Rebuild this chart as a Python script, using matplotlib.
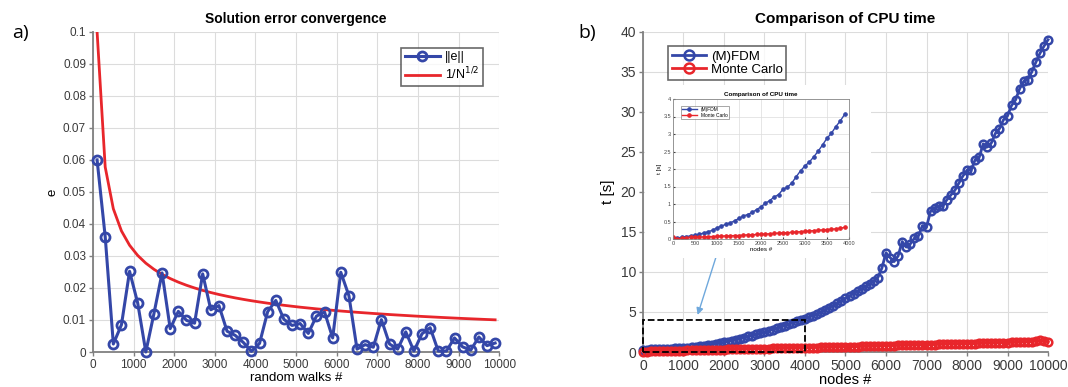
import matplotlib.pyplot as plt
from matplotlib.patches import Rectangle

plt.rcParams['font.family'] = ['Liberation Sans', 'DejaVu Sans']

BLUE = '#3447a8'
RED = '#e8262b'
GRID = '#dcdcdc'

# --- a) solution error convergence ---
walks = list(range(100, 10000, 200))
err = [0.06, 0.036, 0.0025, 0.0085, 0.0252, 0.0153, 0.0, 0.012, 0.0247, 0.0073,
       0.0127, 0.0099, 0.009, 0.0244, 0.0132, 0.0145, 0.0065, 0.0052, 0.003, 0.0002,
       0.0027, 0.0126, 0.0161, 0.0102, 0.0083, 0.0089, 0.0058, 0.0112, 0.0125, 0.0044,
       0.0249, 0.0176, 0.0009, 0.0023, 0.0015, 0.0101, 0.0025, 0.0009, 0.0063, 0.0003,
       0.0057, 0.0076, 0.0003, 0.0003, 0.0044, 0.0016, 0.0006, 0.0047, 0.002, 0.0028]
ref = [0.1, 0.05774, 0.04472, 0.0378, 0.03333, 0.03015, 0.02774, 0.02582, 0.02425, 0.02294,
       0.02182, 0.02085, 0.02, 0.01925, 0.01857, 0.01796, 0.01741, 0.0169, 0.01644, 0.01601,
       0.01562, 0.01525, 0.01491, 0.01459, 0.01429, 0.014, 0.01374, 0.01348, 0.01325, 0.01302,
       0.0128, 0.0126, 0.0124, 0.01222, 0.01204, 0.01187, 0.0117, 0.01155, 0.0114, 0.01125,
       0.01111, 0.01098, 0.01085, 0.01072, 0.0106, 0.01048, 0.01037, 0.01026, 0.01015, 0.01005]

# --- b) CPU time ---
nodes = list(range(0, 10001, 100))
t_fdm = [0.3, 0.3, 0.32, 0.34, 0.36, 0.38, 0.4, 0.42, 0.45, 0.48,
         0.5, 0.55, 0.6, 0.65, 0.7, 0.75, 0.82, 0.9, 1.0, 1.1,
         1.2, 1.3, 1.4, 1.5, 1.65, 1.8, 1.95, 2.05, 2.2, 2.35,
         2.5, 2.65, 2.8, 2.95, 3.1, 3.3, 3.45, 3.65, 3.85, 4.0,
         4.15, 4.35, 4.55, 4.75, 4.95, 5.3, 5.55, 5.8, 6.1, 6.4,
         6.75, 7.0, 7.3, 7.6, 7.9, 8.2, 8.5, 8.9, 9.3, 10.5,
         12.4, 11.8, 11.3, 12.0, 13.8, 13.1, 13.5, 14.2, 14.5, 15.8,
         15.6, 17.6, 18.0, 18.2, 18.2, 19.0, 19.6, 20.2, 21.1, 22.0,
         22.7, 22.7, 24.0, 24.3, 26.0, 25.6, 26.1, 27.3, 27.9, 29.0,
         29.5, 30.8, 31.5, 32.9, 33.8, 34.0, 35.0, 36.2, 37.3, 38.2,
         39.0]
t_mc = [0.05, 0.05, 0.08, 0.1, 0.1, 0.12, 0.13, 0.15, 0.15, 0.17,
        0.18, 0.2, 0.2, 0.22, 0.23, 0.25, 0.25, 0.27, 0.28, 0.3,
        0.3, 0.32, 0.33, 0.33, 0.35, 0.36, 0.37, 0.38, 0.4, 0.4,
        0.42, 0.43, 0.44, 0.45, 0.46, 0.47, 0.48, 0.5, 0.5, 0.52,
        0.53, 0.54, 0.55, 0.56, 0.57, 0.58, 0.6, 0.6, 0.62, 0.63,
        0.64, 0.65, 0.66, 0.68, 0.7, 0.7, 0.72, 0.73, 0.75, 0.78,
        0.8, 0.78, 0.8, 0.82, 0.83, 0.85, 0.86, 0.87, 0.88, 0.9,
        0.9, 0.92, 0.93, 0.95, 0.97, 1.0, 1.02, 0.98, 1.0, 1.02,
        1.03, 1.05, 1.05, 1.07, 1.08, 1.1, 1.1, 1.12, 1.15, 1.17,
        1.18, 1.2, 1.2, 1.22, 1.25, 1.27, 1.3, 1.35, 1.45, 1.4,
        1.25]

# inset (zoom on first 4000 nodes)
nodes_in = list(range(0, 4000, 100))
t_fdm_in = [0.02, 0.03, 0.05, 0.07, 0.09, 0.11, 0.14, 0.17, 0.21, 0.25,
            0.32, 0.37, 0.42, 0.46, 0.52, 0.59, 0.66, 0.7, 0.76, 0.84,
            0.92, 1.02, 1.1, 1.2, 1.27, 1.42, 1.48, 1.6, 1.78, 1.95,
            2.09, 2.2, 2.35, 2.51, 2.69, 2.88, 3.02, 3.21, 3.37, 3.56]
t_mc_in = [0.06, 0.0, 0.02, 0.04, 0.05, 0.06, 0.06, 0.06, 0.07, 0.07,
           0.08, 0.08, 0.09, 0.09, 0.1, 0.1, 0.11, 0.12, 0.12, 0.13,
           0.14, 0.14, 0.15, 0.16, 0.17, 0.18, 0.18, 0.19, 0.2, 0.21,
           0.22, 0.23, 0.24, 0.25, 0.26, 0.27, 0.28, 0.29, 0.31, 0.33]


def matlab_axes(ax, size):
    ax.grid(True, color=GRID, lw=0.8)
    ax.set_axisbelow(True)
    for s in ['top', 'right']:
        ax.spines[s].set_visible(False)
    for s in ['left', 'bottom']:
        ax.spines[s].set_color('#808080')
        ax.spines[s].set_linewidth(1.3)
    ax.tick_params(labelsize=size, colors='#808080', labelcolor='#3a3a3a',
                   direction='out', length=3, width=1, pad=2)


fig = plt.figure(figsize=(10.68, 3.87), dpi=100)

# ---------------- a) ----------------
ax1 = fig.add_axes([0.0871, 0.0904, 0.3803, 0.8276])
ax1.plot(walks, err, '-o', color=BLUE, lw=2.2, ms=6.5, mfc='none', mew=2, label='||e||',
         clip_on=False, zorder=3)
ax1.plot(walks, ref, '-', color=RED, lw=2, label='1/N$^{1/2}$', zorder=2)
ax1.set_xlim(0, 10000)
ax1.set_ylim(0, 0.1)
ax1.set_xticks(range(0, 10001, 1000))
ax1.set_yticks([i / 100 for i in range(11)])
ax1.set_yticklabels(['0'] + ['%g' % (i / 100) for i in range(1, 11)])
matlab_axes(ax1, 8.5)
ax1.set_title('Solution error convergence', fontsize=10, fontweight='bold', pad=6)
ax1.set_xlabel('random walks #', fontsize=9.5, labelpad=1)
ax1.set_ylabel('e', fontsize=9.5, labelpad=3)
leg1 = ax1.legend(loc='upper right', fontsize=9, frameon=True, fancybox=False,
                  handlelength=2.8, handletextpad=0.4, borderpad=0.3, labelspacing=0.2,
                  bbox_to_anchor=(0.975, 0.97))
leg1.get_frame().set_edgecolor('#444444')
leg1.get_frame().set_linewidth(1.2)

# ---------------- b) ----------------
ax2 = fig.add_axes([0.602, 0.0904, 0.3793, 0.8276])
ax2.plot(nodes, t_fdm, '-o', color=BLUE, lw=2, ms=5.5, mfc='none', mew=1.8,
         label='(M)FDM', clip_on=False, zorder=3)
ax2.plot(nodes, t_mc, '-o', color=RED, lw=2, ms=5.5, mfc='none', mew=1.8,
         label='Monte Carlo', clip_on=False, zorder=3)
ax2.add_patch(Rectangle((0, 0), 4000, 4, fill=False, ls='--', lw=1.3,
                        edgecolor='black', zorder=4, clip_on=False))
ax2.annotate('', xy=(1330, 4.3), xytext=(1850, 12.6),
             arrowprops=dict(arrowstyle='-|>', color='#6fa8dc', lw=1, mutation_scale=10),
             zorder=5)
ax2.set_xlim(0, 10000)
ax2.set_ylim(0, 40)
ax2.set_xticks(range(0, 10001, 1000))
ax2.set_yticks(range(0, 41, 5))
matlab_axes(ax2, 10)
ax2.set_title('Comparison of CPU time', fontsize=11, fontweight='bold', pad=6)
ax2.set_xlabel('nodes #', fontsize=10.5, labelpad=0)
ax2.set_ylabel('t [s]', fontsize=11, labelpad=4)
leg2 = ax2.legend(loc='upper left', fontsize=9.5, frameon=True, fancybox=False,
                  handlelength=2.6, handletextpad=0.35, borderpad=0.3, labelspacing=0.1,
                  bbox_to_anchor=(0.045, 0.975), markerscale=1.3)
leg2.get_frame().set_edgecolor('#444444')
leg2.get_frame().set_linewidth(1.2)

# white backing of the pasted inset picture
fig.patches.append(Rectangle((645 / 1068, 1 - 258 / 387), 226 / 1068, 173 / 387,
                             transform=fig.transFigure, facecolor='white',
                             edgecolor='none', zorder=1))

axi = fig.add_axes([673 / 1068, 1 - 239 / 387, 176 / 1068, 140 / 387], zorder=2)
axi.plot(nodes_in, t_fdm_in, '-o', color=BLUE, lw=1, ms=2.5, mew=0.8, label='(M)FDM')
axi.plot(nodes_in, t_mc_in, '-o', color=RED, lw=1, ms=2.5, mew=0.8, label='Monte Carlo')
axi.set_xlim(0, 4000)
axi.set_ylim(0, 4)
axi.set_xticks(range(0, 4001, 500))
axi.set_yticks([i / 2 for i in range(9)])
axi.set_yticklabels(['%g' % (i / 2) for i in range(9)])
axi.grid(True, color=GRID, lw=0.5)
axi.set_axisbelow(True)
for s in axi.spines.values():
    s.set_color('#888888')
    s.set_linewidth(0.6)
axi.tick_params(labelsize=4, colors='#444444', direction='in', length=1.5, pad=1.5)
axi.set_title('Comparison of CPU time', fontsize=4.5, fontweight='bold', pad=2)
axi.set_xlabel('nodes #', fontsize=4.5, labelpad=1)
axi.set_ylabel('t [s]', fontsize=4.5, labelpad=1)
legi = axi.legend(loc='upper left', fontsize=3.5, frameon=True, fancybox=False,
                  handlelength=3, borderpad=0.3, labelspacing=0.1,
                  bbox_to_anchor=(0.03, 0.97))
legi.get_frame().set_edgecolor('#666666')
legi.get_frame().set_linewidth(0.5)

fig.text(12 / 1068, 1 - 33 / 387, 'a)', fontsize=14, va='center', family=['Open Sans', 'DejaVu Sans'])
fig.text(578 / 1068, 1 - 33 / 387, 'b)', fontsize=14, va='center', family=['Open Sans', 'DejaVu Sans'])

fig.savefig('out.png', dpi=100)
